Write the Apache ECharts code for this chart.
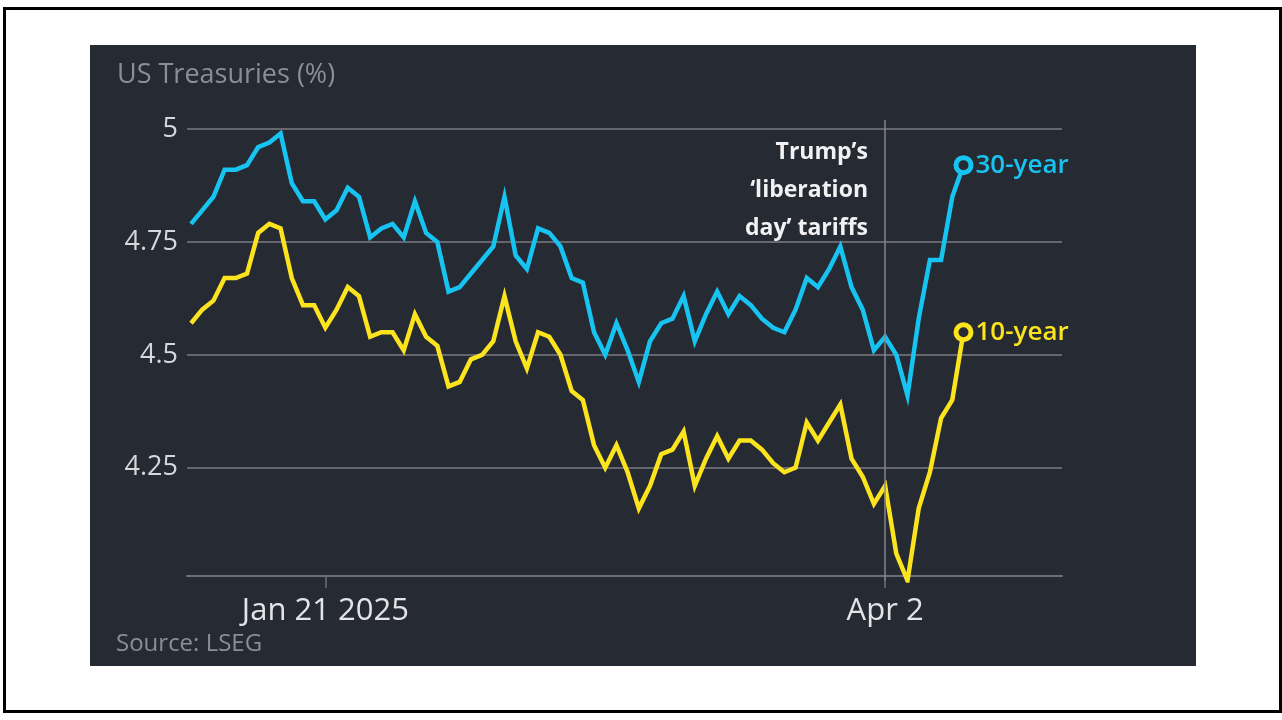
<!DOCTYPE html>
<html>
<head>
<meta charset="utf-8">
<script src="https://cdn.jsdelivr.net/npm/echarts@6/dist/echarts.min.js"></script>
<style>
  body { margin: 0; background: #fff; }
  #frame {
    position: absolute;
    left: 3px;
    top: 7px;
    width: 1273px;
    height: 700px;
    border: 3px solid #000;
  }
  #chart {
    position: absolute;
    left: 90px;
    top: 45px;
    width: 1106px;
    height: 621px;
  }
</style>
</head>
<body>
<div id="frame"></div>
<div id="chart"></div>
<script>
// trading days, Jan 2 - Apr 11 2025
const days = [
  "Jan 2", "Jan 3", "Jan 6", "Jan 7", "Jan 8", "Jan 9", "Jan 10", "Jan 13", "Jan 14", "Jan 15", "Jan 16", "Jan 17",
  "Jan 21", "Jan 22", "Jan 23", "Jan 24", "Jan 27", "Jan 28", "Jan 29", "Jan 30", "Jan 31",
  "Feb 3", "Feb 4", "Feb 5", "Feb 6", "Feb 7", "Feb 10", "Feb 11", "Feb 12", "Feb 13", "Feb 14",
  "Feb 18", "Feb 19", "Feb 20", "Feb 21", "Feb 24", "Feb 25", "Feb 26", "Feb 27", "Feb 28",
  "Mar 3", "Mar 4", "Mar 5", "Mar 6", "Mar 7", "Mar 10", "Mar 11", "Mar 12", "Mar 13", "Mar 14",
  "Mar 17", "Mar 18", "Mar 19", "Mar 20", "Mar 21", "Mar 24", "Mar 25", "Mar 26", "Mar 27", "Mar 28", "Mar 31",
  "Apr 1", "Apr 2", "Apr 3", "Apr 4", "Apr 7", "Apr 8", "Apr 9", "Apr 10", "Apr 11"
];

const y30 = [
  4.79, 4.82, 4.85, 4.91, 4.91, 4.92, 4.96, 4.97, 4.99, 4.88, 4.84, 4.84,
  4.80, 4.82, 4.87, 4.85, 4.76, 4.78, 4.79, 4.76, 4.84,
  4.77, 4.75, 4.64, 4.65, 4.68, 4.71, 4.74, 4.85, 4.72, 4.69,
  4.78, 4.77, 4.74, 4.67, 4.66, 4.55, 4.50, 4.57, 4.51,
  4.44, 4.53, 4.57, 4.58, 4.63, 4.53, 4.59, 4.64, 4.59, 4.63,
  4.61, 4.58, 4.56, 4.55, 4.60, 4.67, 4.65, 4.69, 4.74, 4.65, 4.60,
  4.51, 4.54, 4.50, 4.41, 4.58, 4.71, 4.71, 4.85, 4.92
];

const y10 = [
  4.57, 4.60, 4.62, 4.67, 4.67, 4.68, 4.77, 4.79, 4.78, 4.67, 4.61, 4.61,
  4.56, 4.60, 4.65, 4.63, 4.54, 4.55, 4.55, 4.51, 4.59,
  4.54, 4.52, 4.43, 4.44, 4.49, 4.50, 4.53, 4.63, 4.53, 4.47,
  4.55, 4.54, 4.50, 4.42, 4.40, 4.30, 4.25, 4.30, 4.24,
  4.16, 4.21, 4.28, 4.29, 4.33, 4.21, 4.27, 4.32, 4.27, 4.31,
  4.31, 4.29, 4.26, 4.24, 4.25, 4.35, 4.31, 4.35, 4.39, 4.27, 4.23,
  4.17, 4.21, 4.06, 4.00, 4.16, 4.24, 4.36, 4.40, 4.55
];

const tickDays = ["Jan 21", "Apr 2"];
const tickText = ["Jan 21 2025", "Apr 2"];
const eventDay = "Apr 2";

const BG = "#262a33";
const CYAN = "#17c4f1";
const YELLOW = "#fbe41e";
const FONT = "Open Sans";

const tickIdx = tickDays.map(d => days.indexOf(d));
const last = days.length - 1;

function lineSeries(name, values, color) {
  return {
    name: name,
    type: "line",
    data: values.map((v, i) => [i, v]),
    showAllSymbol: true,
    symbol: (val, p) => (p.dataIndex === last ? "circle" : "none"),
    symbolSize: 15,
    itemStyle: { color: BG, borderColor: color, borderWidth: 5 },
    lineStyle: { color: color, width: 4.5, join: "miter" },
    endLabel: {
      show: true,
      formatter: name,
      color: color,
      fontFamily: FONT,
      fontSize: 26,
      fontWeight: 600,
      distance: 12
    },
    emphasis: { disabled: true },
    silent: true
  };
}

const myChart = echarts.init(document.getElementById("chart"));

let option = {
  backgroundColor: BG,
  animation: false,
  title: [
    {
      text: "US Treasuries (%)",
      left: 27,
      top: 17,
      padding: 0,
      textStyle: { color: "#8b8e96", fontFamily: FONT, fontSize: 27, fontWeight: "normal" }
    },
    {
      text: "Source: LSEG",
      left: 26,
      top: 587,
      padding: 0,
      textStyle: { color: "#8b8e96", fontFamily: FONT, fontSize: 24, fontWeight: "normal" }
    }
  ],
  grid: {
    left: 97,
    right: 134,
    top: 75,
    bottom: 85.4,
    outerBoundsMode: "none"
  },
  xAxis: {
    type: "value",
    min: -0.36,
    max: 77.8,
    offset: -4.6,
    splitLine: { show: false },
    axisLine: { show: true, lineStyle: { color: "#6d6e76", width: 2 } },
    axisTick: {
      show: true,
      customValues: tickIdx,
      length: 12,
      lineStyle: { color: "#6d6e76", width: 1.5 }
    },
    axisLabel: {
      customValues: tickIdx,
      formatter: v => tickText[tickIdx.indexOf(Math.round(v))] || "",
      color: "#e4e4e8",
      fontFamily: FONT,
      fontSize: 31,
      margin: 20
    }
  },
  yAxis: {
    type: "value",
    min: 4,
    max: 5.02,
    interval: 0.25,
    axisLine: { show: false },
    axisTick: { show: false },
    axisLabel: {
      showMinLabel: false,
      showMaxLabel: false,
      color: "#d6d7db",
      fontFamily: FONT,
      fontSize: 27,
      margin: 9
    },
    splitLine: {
      show: true,
      showMinLine: false,
      showMaxLine: false,
      lineStyle: { color: "#65666e", width: 2 }
    }
  },
  series: [
    Object.assign(lineSeries("10-year", y10, YELLOW), {
      markLine: {
        silent: true,
        symbol: "none",
        label: { show: false },
        lineStyle: { color: "#85868d", width: 1.5, type: "solid" },
        data: [{ xAxis: days.indexOf(eventDay) }]
      }
    }),
    lineSeries("30-year", y30, CYAN)
  ],
  graphic: [
    {
      type: "text",
      x: 778,
      y: 88,
      style: {
        text: "Trump\u2019s\n\u2018liberation\nday\u2019 tariffs",
        fill: "#f2f2f4",
        font: "bold 23px 'Open Sans'",
        lineHeight: 38,
        align: "right",
        verticalAlign: "top"
      }
    }
  ]
};

myChart.setOption(option);
</script>
</body>
</html>
